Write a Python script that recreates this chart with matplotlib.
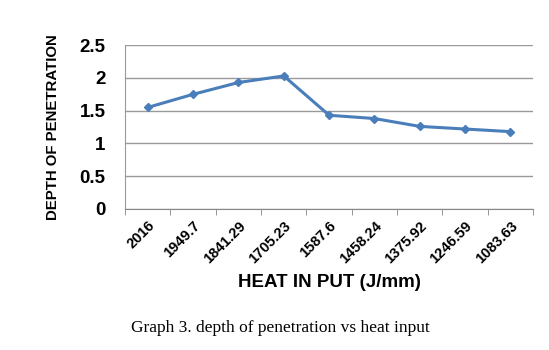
import matplotlib.pyplot as plt

# Data
heat_input = ['2016', '1949.7', '1841.29', '1705.23', '1587.6',
              '1458.24', '1375.92', '1246.59', '1083.63']
depth = [1.55, 1.75, 1.93, 2.03, 1.43, 1.38, 1.26, 1.22, 1.18]
y_ticks = [0, 0.5, 1, 1.5, 2, 2.5]

plt.rcParams['font.family'] = 'Liberation Sans'

fig = plt.figure(figsize=(5.49, 3.5), dpi=100)
ax = fig.add_axes([0.228, 0.403, 0.743, 0.468])

x = list(range(len(heat_input)))
ax.plot(x, depth, color='#4a7ebb', lw=2.2, marker='D', markersize=4)

ax.set_xlim(-0.5, len(heat_input) - 0.5)
ax.set_ylim(0, 2.5)
ax.set_yticks(y_ticks)
ax.set_yticklabels(['0', '0.5', '1', '1.5', '2', '2.5'], fontsize=13.5, fontweight='bold')
ax.yaxis.grid(True, color='#999999', lw=1)
ax.set_axisbelow(True)

# category labels centred, tick marks between categories
ax.set_xticks(x)
ax.set_xticklabels(heat_input, rotation=45, ha='right', rotation_mode='anchor',
                   fontsize=10.5, fontweight='bold')
ax.tick_params(axis='x', length=0, pad=7)
ax.tick_params(axis='y', length=0, pad=14)
ax.set_xticks([i - 0.5 for i in range(len(heat_input) + 1)], minor=True)
ax.tick_params(axis='x', which='minor', length=4, color='#888888')

for s in ['top', 'right']:
    ax.spines[s].set_visible(False)
ax.spines['left'].set_color('#999999')
ax.spines['bottom'].set_color('#888888')

ax.set_ylabel('DEPTH OF PENETRATION', fontsize=10.8, fontweight='bold', labelpad=14)
ax.set_xlabel('HEAT IN PUT (J/mm)', fontsize=13.5, fontweight='bold', labelpad=6)

fig.text(0.51, 0.063, 'Graph 3. depth of penetration vs heat input',
         ha='center', va='center', fontsize=12.5, family='Liberation Serif')

plt.savefig('out.png', dpi=100)
